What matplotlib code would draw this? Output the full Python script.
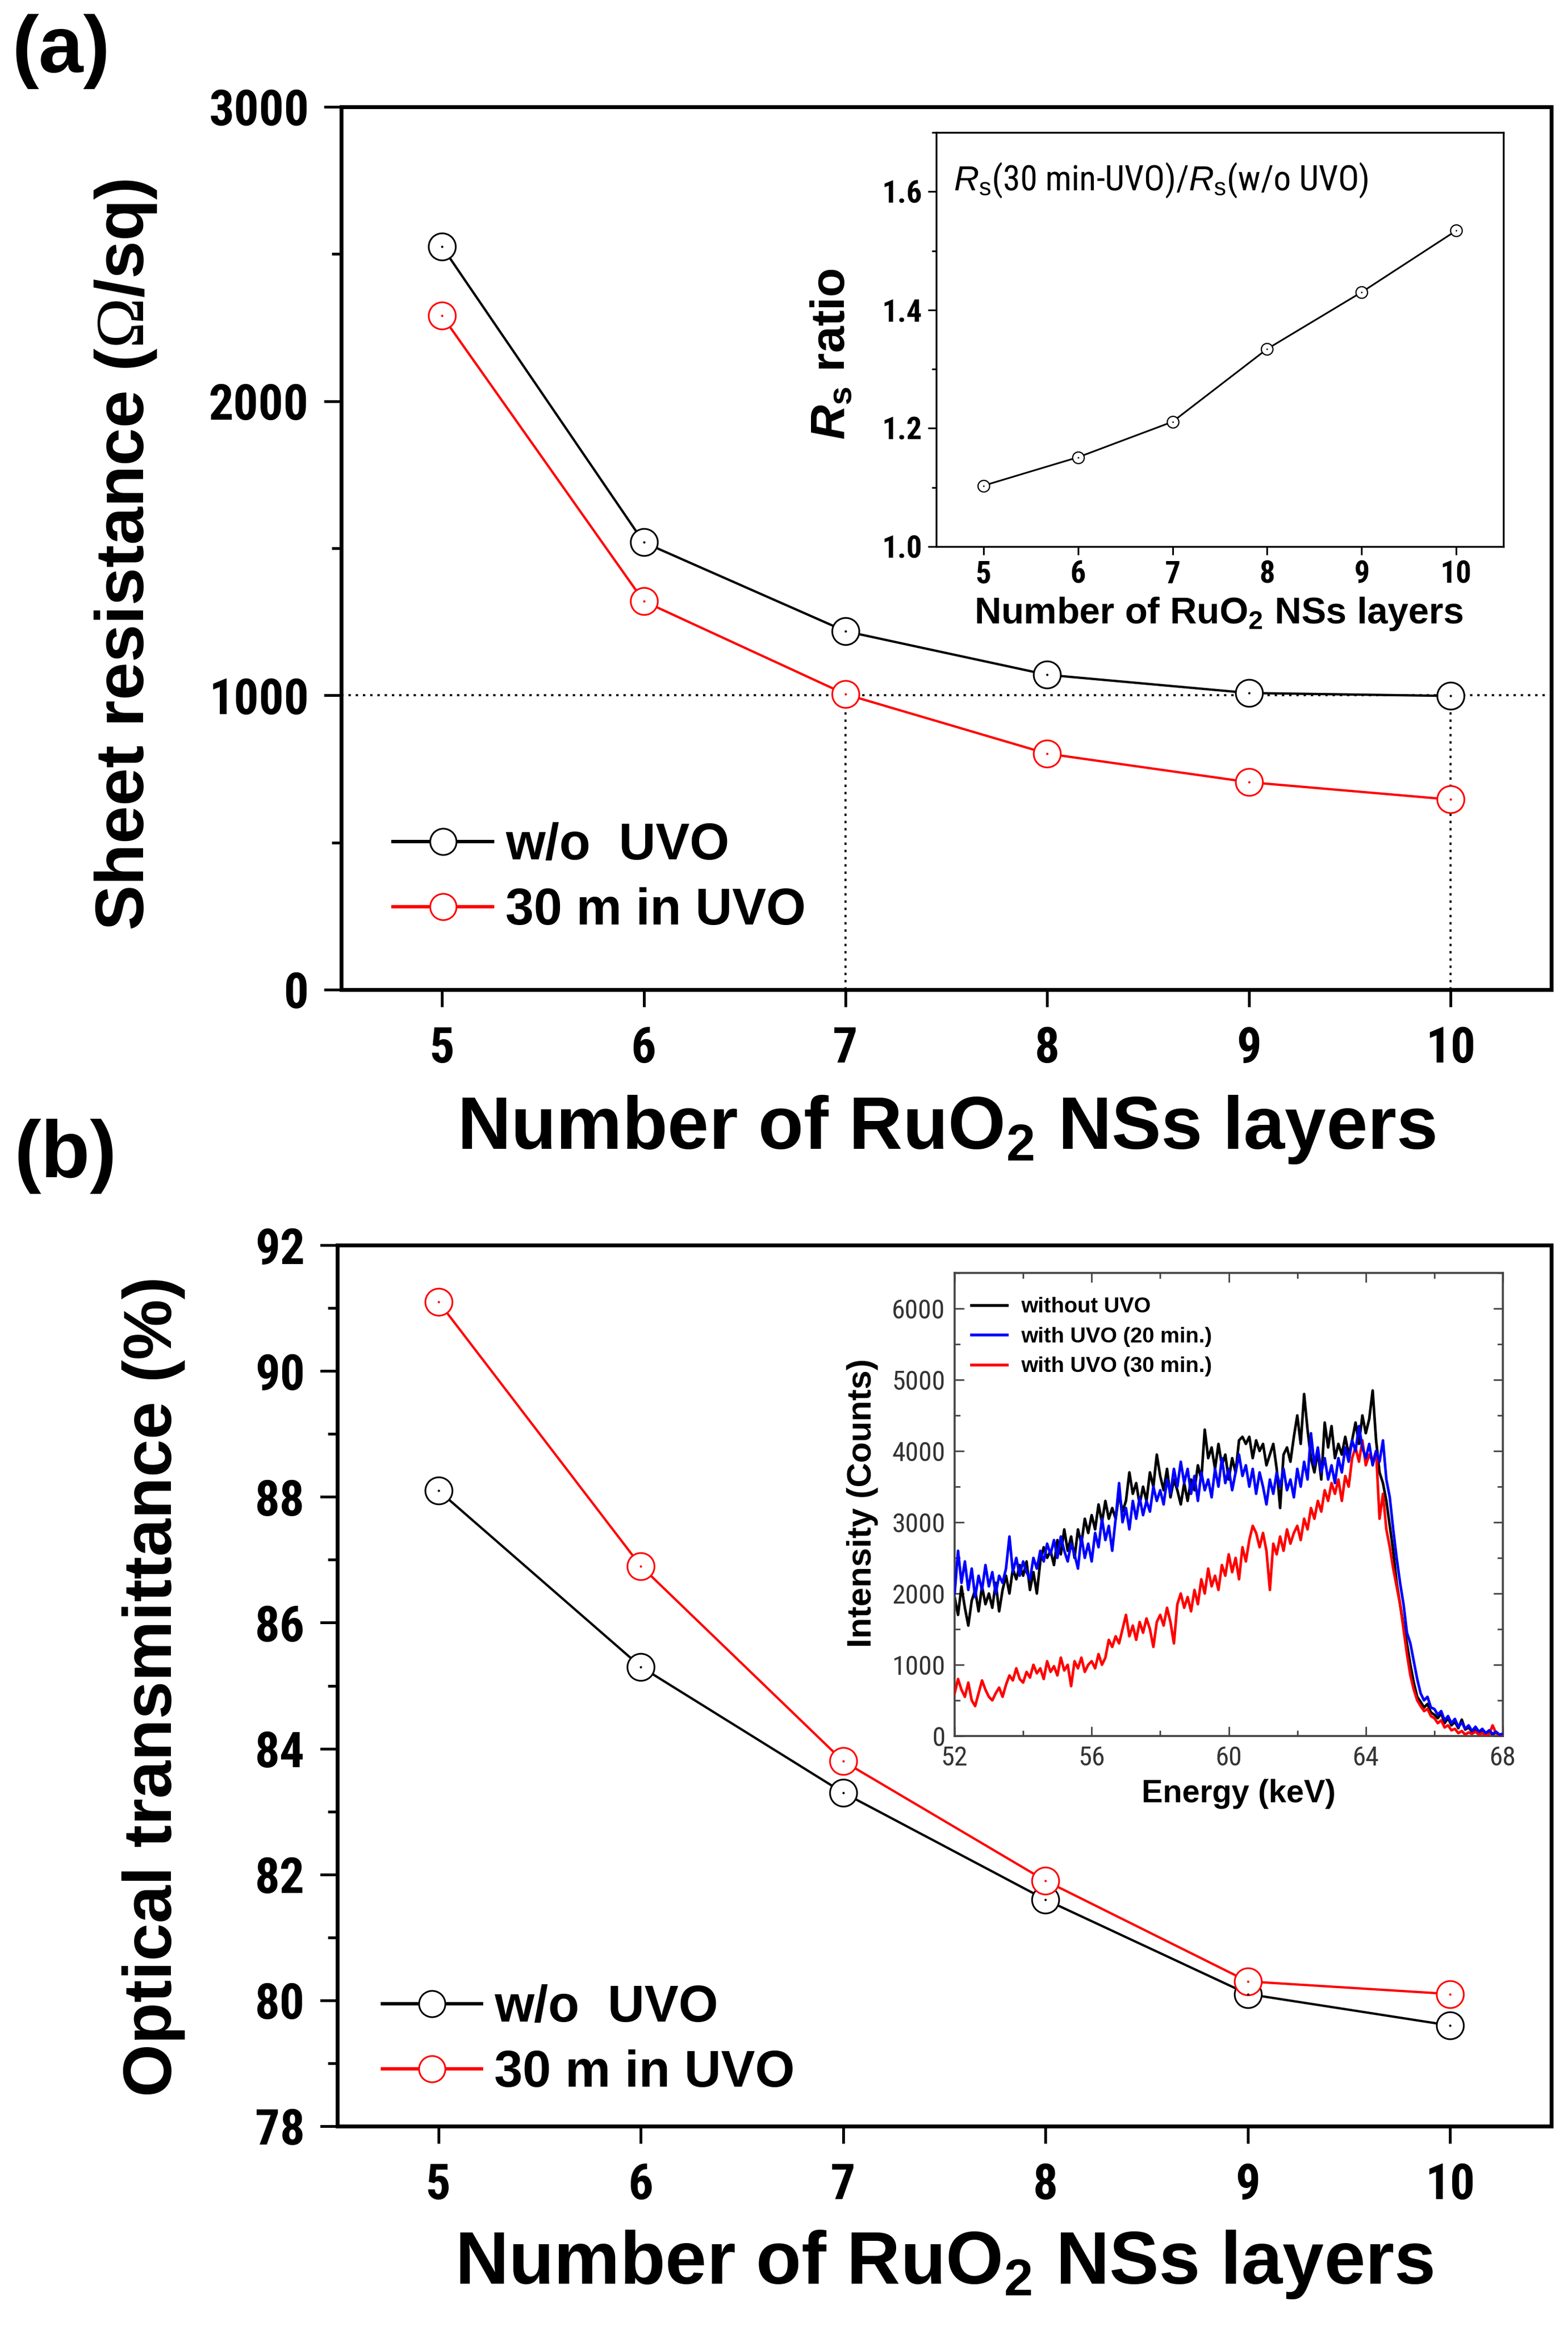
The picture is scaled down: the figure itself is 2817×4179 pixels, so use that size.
import numpy as np
import matplotlib
matplotlib.use("Agg")
import matplotlib.pyplot as plt
from matplotlib import font_manager as fm
from matplotlib.ticker import MultipleLocator
from matplotlib.lines import Line2D

# ---------------- data ----------------
layers = [5, 6, 7, 8, 9, 10]
rs_wo_uvo = [2525, 1520, 1218, 1070, 1008, 998]
rs_30_uvo = [2290, 1320, 1004, 802, 705, 646]
rs_ratio = [1.103, 1.151, 1.211, 1.334, 1.430, 1.534]
rs_guide_level = 1000
rs_guide_layers = [7, 10]

tr_wo_uvo = [88.1, 85.3, 83.3, 81.6, 80.1, 79.6]
tr_30_uvo = [91.1, 86.9, 83.8, 81.9, 80.3, 80.1]

energy_start, energy_stop, energy_count = 52.0, 68.0, 161
cnt_without = [
    1950, 1700, 2100, 1800, 1550, 1900, 2050, 1750, 2100, 1850,
    2000, 1800, 2150, 1750, 2050, 2250, 2000, 2350, 2200, 2400,
    2250, 2450, 2050, 2300, 2000, 2450, 2650, 2500, 2600, 2400,
    2750, 2550, 2900, 2600, 2800, 2500, 2900, 2700, 3050, 2850,
    3100, 2900, 3250, 3000, 3300, 3050, 3200, 3050, 3400, 3150,
    3300, 3700, 3400, 3550, 3250, 3500, 3300, 3700, 3500, 3950,
    3650, 3450, 3750, 3350, 3600, 3450, 3250, 3550, 3300, 3600,
    3450, 3800, 3600, 4300, 3900, 4050, 3750, 4100, 3800, 3950,
    3600, 3900, 3700, 4150, 4200, 4100, 4200, 3900, 4150, 4000,
    4100, 3800, 3950, 4100, 3750, 3200, 3950, 4050, 3850, 4200,
    4500, 4100, 4800, 4300, 3900, 3700, 4000, 3600, 4400, 4050,
    4350, 3900, 4100, 3950, 4200, 3950, 4150, 4400, 4100, 4500,
    4250, 4450, 4850, 4150, 3700, 3550, 3300, 2950, 2600, 2150,
    1850, 1550, 1300, 1000, 750, 550, 480, 400, 450, 330,
    300, 250, 320, 180, 250, 150, 200, 110, 230, 90,
    120, 60, 80, 40, 90, 30, 60, 20, 50, 10,
    20]
cnt_uvo20 = [
    2000, 2600, 2150, 2450, 2050, 2350, 1950, 2250, 2050, 2400,
    2100, 2300, 2000, 2250, 2150, 2350, 2800, 2300, 2500, 2250,
    2450, 2300, 2200, 2500, 2350, 2600, 2450, 2700, 2550, 2750,
    2500, 2800, 2600, 2450, 2700, 2550, 2350, 2800, 2500, 2700,
    2450, 2850, 2650, 3050, 2750, 2950, 2600, 3050, 3550, 3000,
    3200, 2900, 3300, 3050, 3350, 3100, 3300, 3150, 3500, 3300,
    3450, 3250, 3600, 3400, 3750, 3500, 3850, 3550, 3750, 3400,
    3650, 3300, 3700, 3450, 3600, 3350, 3750, 3500, 3900, 3550,
    3750, 3450, 3700, 3950, 3650, 3800, 3500, 3750, 3400, 3700,
    3500, 3250, 3600, 3400, 3700, 3500, 3750, 3450, 3600, 3350,
    3750, 3500, 3850, 3600, 4250, 3800, 4050, 3700, 3900, 3600,
    3800, 3550, 3900, 3700, 4050, 3850, 4150, 4000, 4350, 4050,
    3900, 4100, 3800, 4000, 3850, 4150, 3600, 3350, 2900, 2500,
    2150, 1850, 1450, 1300, 1050, 800, 600, 500, 550, 400,
    380, 300, 350, 220, 280, 180, 240, 130, 190, 100,
    150, 70, 130, 60, 100, 40, 80, 30, 60, 20,
    30]
cnt_uvo30 = [
    600, 800, 650, 550, 750, 500, 420, 600, 780, 650,
    550, 500, 600, 680, 550, 720, 850, 780, 950, 800,
    750, 900, 820, 1000, 880, 950, 800, 1050, 900, 980,
    850, 1100, 920, 1000, 700, 1050, 950, 1100, 900, 1000,
    1050, 950, 1150, 1000, 1100, 1350, 1250, 1400, 1300, 1500,
    1700, 1400, 1550, 1350, 1600, 1450, 1650, 1500, 1250, 1600,
    1700, 1550, 1800, 1600, 1300, 1850, 2000, 1800, 1950, 1750,
    2050, 1850, 2200, 2000, 2350, 2100, 2250, 2050, 2400, 2250,
    2550, 2300, 2500, 2200, 2650, 2450, 2750, 2950, 2850, 2650,
    2850, 2600, 2050, 2700, 2550, 2800, 2600, 2900, 2700, 2850,
    2950, 2750, 3050, 2900, 3200, 3050, 3300, 3150, 3450, 3300,
    3550, 3400, 3600, 3300, 3650, 3500, 3900, 4050, 3850, 4150,
    3800, 3950, 3850, 4000, 3050, 3400, 2900, 2650, 2350, 2100,
    1850, 1500, 1150, 850, 650, 500, 420, 350, 380, 280,
    250, 180, 220, 120, 150, 80, 100, 40, 70, 20,
    50, 30, 60, 20, 40, 10, 30, 150, 40, 10,
    0]
energy = np.linspace(energy_start, energy_stop, energy_count)

series_labels = ["w/o  UVO", "30 m in UVO"]
spec_labels = ["without UVO", "with UVO (20 min.)", "with UVO (30 min.)"]

# ---------------- fonts ----------------
names = {f.name for f in fm.fontManager.ttflist}
SANS = "Liberation Sans" if "Liberation Sans" in names else "DejaVu Sans"
NARROW = SANS
for cand in ["Liberation Sans Narrow", "Arial Narrow", "Roboto Condensed",
             "Open Sans Condensed", "DejaVu Sans Condensed"]:
    if cand in names:
        NARROW = cand
        break
SERIF = "Liberation Serif" if "Liberation Serif" in names else "DejaVu Serif"

plt.rcParams["font.family"] = [SANS, "DejaVu Sans"]
plt.rcParams["mathtext.fontset"] = "custom"
plt.rcParams["mathtext.rm"] = SANS
plt.rcParams["mathtext.it"] = SANS + ":italic"
plt.rcParams["mathtext.bf"] = SANS + ":bold"
plt.rcParams["mathtext.bfit"] = SANS + ":bold:italic"
plt.rcParams["mathtext.sf"] = SERIF

W, H = 2817, 4179
fig = plt.figure(figsize=(W / 100, H / 100), dpi=100)


def rect(l, t, r, b):
    return [l / W, 1 - b / H, (r - l) / W, (b - t) / H]


TICK_SIZE = 64 if NARROW != SANS else 60


def style_main(ax):
    for s in ax.spines.values():
        s.set_linewidth(5.0)
    ax.tick_params(which="major", direction="out", length=22, width=3.6,
                   top=False, right=False, pad=20)
    ax.tick_params(which="minor", direction="out", length=12, width=3.6,
                   top=False, right=False)
    ax.tick_params(axis="x", which="major", pad=24)
    for lab in ax.get_xticklabels() + ax.get_yticklabels():
        lab.set_fontfamily(NARROW)
        lab.set_fontweight("bold")
        lab.set_fontsize(TICK_SIZE)


mk = dict(marker="o", ms=35, mfc="white", mew=2.2, lw=3.0)


def legend_handles():
    return [Line2D([], [], color="k", lw=4.4, marker="o", ms=34, mfc="white", mec="k", mew=2.2),
            Line2D([], [], color="red", lw=4.4, marker="o", ms=34, mfc="white", mec="red", mew=2.2)]


# ---------------- panel (a) ----------------
axa = fig.add_axes(rect(613, 192, 2787, 1778))
axa.axhline(rs_guide_level, color="k", ls=(0, (1.2, 2.4)), lw=2.6, zorder=1)
axa.vlines(rs_guide_layers, 0, rs_guide_level, colors="k",
           linestyles=[(0, (1.2, 2.4))], lw=2.6, zorder=1)
axa.plot(layers, rs_wo_uvo, color="k", mec="k", zorder=3, **mk)
axa.plot(layers, rs_30_uvo, color="red", mec="red", zorder=3, **mk)
axa.plot(layers, rs_wo_uvo, ls="none", marker=".", ms=4, color="k", zorder=4)
axa.plot(layers, rs_30_uvo, ls="none", marker=".", ms=4, color="red", zorder=4)
axa.set_xlim(4.5, 10.5)
axa.set_ylim(0, 3000)
axa.set_xticks(layers)
axa.set_yticks([0, 1000, 2000, 3000])
axa.yaxis.set_minor_locator(MultipleLocator(500))
style_main(axa)
axa.legend(legend_handles(), series_labels, loc="upper left",
           bbox_to_anchor=(0.043, 0.19), frameon=False,
           prop={"family": SANS, "weight": "bold", "size": 66},
           handlelength=1.95, handletextpad=0.25, labelspacing=0.34,
           borderpad=0, borderaxespad=0)

fig.text(22 / W, 1 - 25 / H, "(a)", fontsize=104, fontweight="bold", ha="left", va="top")
fig.text(226 / W, 1 - 997 / H, r"Sheet resistance ($\mathsf{\Omega}$/sq)", rotation=90,
         fontsize=88, fontweight="bold", ha="center", va="center")
fig.text(1700 / W, 1 - 2064 / H, r"Number of RuO$_\mathbf{2}$ NSs layers",
         fontsize=96, fontweight="bold", ha="center", va="baseline")

# inset (a)
axi = fig.add_axes(rect(1682, 238, 2701, 982))
axi.plot(layers, rs_ratio, color="k", lw=2.2, marker="o", ms=15, mfc="white",
         mec="k", mew=1.6)
axi.plot(layers, rs_ratio, ls="none", marker=".", ms=2, color="k")
axi.set_xlim(4.5, 10.5)
axi.set_ylim(1.0, 1.7)
axi.set_xticks(layers)
axi.set_yticks([1.0, 1.2, 1.4, 1.6])
axi.yaxis.set_minor_locator(MultipleLocator(0.1))
for s in axi.spines.values():
    s.set_linewidth(2.4)
axi.tick_params(which="major", direction="out", length=11, width=2.2, pad=7)
axi.tick_params(which="minor", direction="out", length=6, width=2.2)
for lab in axi.get_xticklabels() + axi.get_yticklabels():
    lab.set_fontfamily(NARROW)
    lab.set_fontweight("bold")
    lab.set_fontsize(40)
axi.text(0.03, 0.885, r"$R_\mathrm{s}$(30 min-UVO)/$R_\mathrm{s}$(w/o UVO)",
         transform=axi.transAxes, fontsize=45, family=NARROW, ha="left", va="center")
fig.text(1495 / W, 1 - 636 / H, r"$\mathbfit{R}_\mathbf{s}$ ratio", rotation=90,
         fontsize=62, fontweight="bold", ha="center", va="center")
fig.text(2190 / W, 1 - 1120 / H, r"Number of RuO$_\mathbf{2}$ NSs layers",
         fontsize=48, fontweight="bold", ha="center", va="baseline")

# ---------------- panel (b) ----------------
axb = fig.add_axes(rect(606, 2237, 2787, 3820))
axb.plot(layers, tr_wo_uvo, color="k", mec="k", zorder=3, **mk)
axb.plot(layers, tr_30_uvo, color="red", mec="red", zorder=3, **mk)
axb.plot(layers, tr_wo_uvo, ls="none", marker=".", ms=4, color="k", zorder=4)
axb.plot(layers, tr_30_uvo, ls="none", marker=".", ms=4, color="red", zorder=4)
axb.set_xlim(4.5, 10.5)
axb.set_ylim(78, 92)
axb.set_xticks(layers)
axb.set_yticks(np.arange(78, 93, 2))
axb.yaxis.set_minor_locator(MultipleLocator(1))
style_main(axb)
axb.legend(legend_handles(), series_labels, loc="upper left",
           bbox_to_anchor=(0.037, 0.161), frameon=False,
           prop={"family": SANS, "weight": "bold", "size": 66},
           handlelength=1.95, handletextpad=0.25, labelspacing=0.34,
           borderpad=0, borderaxespad=0)

fig.text(26 / W, 1 - 2010 / H, "(b)", fontsize=104, fontweight="bold", ha="left", va="top")
fig.text(276 / W, 1 - 3030 / H, "Optical transmittance (%)", rotation=90,
         fontsize=88, fontweight="bold", ha="center", va="center")
fig.text(1696 / W, 1 - 4103 / H, r"Number of RuO$_\mathbf{2}$ NSs layers",
         fontsize=96, fontweight="bold", ha="center", va="baseline")

# inset (b)
axs = fig.add_axes(rect(1715, 2287, 2700, 3119))
axs.plot(energy, cnt_without, color="black", lw=3.4, zorder=2)
axs.plot(energy, cnt_uvo30, color="#ff0000", lw=3.4, zorder=3)
axs.plot(energy, cnt_uvo20, color="#0000ff", lw=3.4, zorder=4)
axs.set_xlim(52, 68)
axs.set_ylim(0, 6500)
axs.set_xticks([52, 56, 60, 64, 68])
axs.set_yticks(np.arange(0, 6001, 1000))
axs.xaxis.set_minor_locator(MultipleLocator(2))
axs.yaxis.set_minor_locator(MultipleLocator(500))
for s in axs.spines.values():
    s.set_linewidth(2.6)
    s.set_color("#444444")
axs.tick_params(which="both", direction="in", top=True, right=True,
                color="#444444", width=2.0, labelcolor="#333333")
axs.tick_params(which="major", length=12, pad=12)
axs.tick_params(which="minor", length=7)
for lab in axs.get_xticklabels() + axs.get_yticklabels():
    lab.set_fontfamily(NARROW)
    lab.set_fontsize(35)
spec_handles = [Line2D([], [], color=c, lw=3.8) for c in ["black", "#0000ff", "#ff0000"]]
axs.legend(spec_handles, spec_labels, loc="upper left",
           bbox_to_anchor=(0.03, 0.948), frameon=False,
           prop={"family": SANS, "weight": "bold", "size": 28},
           handlelength=1.65, handletextpad=0.65, labelspacing=0.45,
           borderpad=0, borderaxespad=0)
fig.text(1550 / W, 1 - 2700 / H, "Intensity (Counts)", rotation=90,
         fontsize=44, fontweight="bold", ha="center", va="center")
fig.text(2225 / W, 1 - 3223 / H, "Energy (keV)",
         fontsize=41, fontweight="bold", ha="center", va="center")

fig.savefig("out.png", dpi=100)
